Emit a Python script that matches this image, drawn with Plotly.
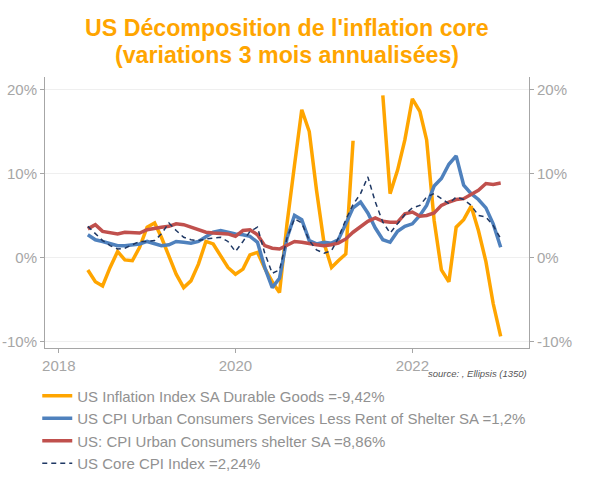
import pandas as pd
import plotly.graph_objects as go

# mensuel, mai 2018 -> janvier 2023
dates = pd.date_range("2018-05-01", periods=57, freq="MS")

durable_goods = [
    -1.5, -2.9, -3.4, -1.2, 0.7, -0.3, -0.4, 1.2, 3.6, 4.1,
    2.4, 0.1, -2.0, -3.6, -2.8, -0.8, 1.9, 1.6, 0.2, -1.2,
    -2.0, -1.4, 0.3, 0.6, -1.3, -2.9, -4.2, 4.0, 11.0, 17.6,
    15.0, 8.0, 1.7, -1.2, -0.4, 0.4, 13.9, None, None, None,
    19.3, 7.6, 10.4, 14.0, 18.9, 17.4, 14.0, 4.4, -1.5, -2.9,
    3.6, 4.5, 6.1, 3.2, -0.5, -5.5, -9.42,
]
services_less_rent = [
    2.7, 2.1, 1.9, 1.6, 1.4, 1.4, 1.5, 1.6, 1.9, 1.6,
    1.4, 1.5, 1.9, 1.8, 1.7, 1.9, 2.4, 3.0, 3.2, 3.0,
    2.8, 2.7, 2.5, 1.8, -1.2, -3.6, -2.5, 2.3, 5.0, 4.5,
    2.0, 1.6, 1.8, 1.7, 2.1, 4.0, 5.9, 6.6, 5.3, 3.5,
    2.1, 1.8, 3.1, 3.7, 4.0, 5.0, 6.2, 8.5, 9.4, 11.1,
    12.1, 8.6, 7.6, 6.9, 5.9, 4.0, 1.2,
]
shelter = [
    3.4, 3.9, 3.1, 3.0, 2.8, 3.0, 3.0, 2.9, 3.3, 3.5,
    3.6, 3.7, 4.0, 3.9, 3.6, 3.3, 3.0, 2.9, 2.8, 2.8,
    2.5, 3.2, 3.3, 2.7, 1.4, 1.1, 1.0, 1.4, 1.9, 1.8,
    1.6, 1.5, 1.4, 1.5, 1.7, 2.2, 3.0, 3.7, 4.3, 4.7,
    4.3, 4.2, 4.2, 5.2, 5.4, 4.9, 5.0, 5.3, 6.2, 6.6,
    6.9, 7.0, 7.5, 8.0, 8.8, 8.7, 8.86,
]
core_cpi = [
    3.7, 2.8, 2.0, 1.4, 1.0, 1.1, 1.5, 1.9, 1.9, 2.0,
    2.8, 4.1, 3.2, 2.4, 2.1, 2.0, 2.2, 2.3, 2.4, 1.9,
    0.7, 1.9, 3.1, 3.6, 0.5, -1.9, -1.5, 2.3, 4.6, 4.1,
    2.0, 0.9, 0.5, 0.8, 2.3, 4.5, 6.3, 7.6, 9.6, 6.6,
    4.2, 2.9, 4.0, 5.1, 5.9, 6.2, 7.2, 7.6, 7.0, 6.4,
    7.2, 6.9, 6.2, 5.0, 4.8, 3.8, 2.24,
]

names = [
    "US Inflation Index SA Durable Goods =-9,42%",
    "US CPI Urban Consumers Services Less Rent of Shelter SA =1,2%",
    "US: CPI Urban Consumers shelter SA =8,86%",
    "US Core CPI Index =2,24%",
]
title_lines = ["US Décomposition de l'inflation core", "(variations 3 mois annualisées)"]
y_ticks = [-10, 0, 10, 20]
y_labels = ["-10%", "0%", "10%", "20%"]
x_ticks = ["2018-01-01", "2020-01-01", "2022-01-01"]
x_labels = ["2018", "2020", "2022"]

font = "Liberation Sans, Arial, sans-serif"

fig = go.Figure()
fig.add_trace(go.Scatter(x=dates, y=durable_goods, name=names[0], mode="lines",
                         line=dict(color="#FFA500", width=3.5)))
fig.add_trace(go.Scatter(x=dates, y=services_less_rent, name=names[1], mode="lines",
                         line=dict(color="#4F81BD", width=3.5)))
fig.add_trace(go.Scatter(x=dates, y=shelter, name=names[2], mode="lines",
                         line=dict(color="#C0504D", width=3.5)))
fig.add_trace(go.Scatter(x=dates, y=core_cpi, name=names[3], mode="lines",
                         line=dict(color="#1F3864", width=1.5, dash="5px,4px")))
# trace vide pour afficher l'axe de droite
fig.add_trace(go.Scatter(x=[dates[0]], y=[None], yaxis="y2", showlegend=False,
                         hoverinfo="skip"))

axis_common = dict(
    showline=True, linecolor="#a6a6a6", linewidth=1,
    ticks="outside", ticklen=4, tickcolor="#a6a6a6",
    tickfont=dict(size=15, color="#a6a6a6", family=font),
    zeroline=False, automargin=False,
)

fig.update_layout(
    width=593, height=481,
    margin=dict(l=45, r=64, t=77, b=133, autoexpand=False),
    paper_bgcolor="white", plot_bgcolor="white",
    font=dict(family=font),
    xaxis=dict(
        range=["2017-11-05", "2023-04-28"],
        tickvals=x_ticks, ticktext=x_labels,
        showgrid=False,
        **axis_common,
    ),
    yaxis=dict(
        range=[-10.8, 21.5],
        tickvals=y_ticks, ticktext=y_labels,
        showgrid=True, gridcolor="#efefef", gridwidth=1,
        **axis_common,
    ),
    yaxis2=dict(
        overlaying="y", side="right", matches="y",
        tickvals=y_ticks, ticktext=y_labels,
        showgrid=False,
        **axis_common,
    ),
    legend=dict(
        x=-0.016, xanchor="left", y=-0.116, yanchor="top",
        font=dict(size=15, color="#919191", family=font),
        itemwidth=30, tracegroupgap=0,
        bgcolor="rgba(0,0,0,0)",
    ),
    showlegend=True,
)

# titre sur deux lignes
for txt, yy in zip(title_lines, [1.181, 1.081]):
    fig.add_annotation(
        text="<b>" + txt + "</b>", xref="paper", yref="paper", x=0.5, y=yy,
        xanchor="center", yanchor="middle", showarrow=False,
        font=dict(size=23.2, color="#FFA500", family=font),
    )

fig.add_annotation(
    text="<i>source: , Ellipsis (1350)</i>",
    xref="paper", yref="paper", x=1.0, y=-0.093,
    xanchor="right", yanchor="middle", showarrow=False,
    font=dict(size=9.5, color="#555555", family=font),
)

fig.write_html("out.html", config={"displayModeBar": False},
               post_script="document.body.style.margin='0';")
